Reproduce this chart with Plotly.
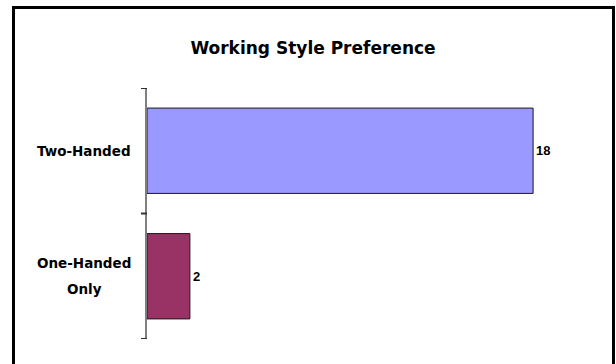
import plotly.graph_objects as go

categories = ["Two-Handed", "One-Handed Only"]
tick_labels = [["Two-Handed"], ["One-Handed", "Only"]]
values = [18, 2]
colors = ["#9999FF", "#993366"]
title_text = "Working Style Preference"

W, H = 616, 364
L, R, T, B = 147, 40, 88, 25
pw, ph = W - L - R, H - T - B

def px_x(x):
    return (x - L) / pw

def px_y(y):
    return (H - B - y) / ph

fig = go.Figure()
fig.add_trace(go.Bar(
    y=categories, x=values, orientation="h",
    marker=dict(color=colors, line=dict(color="#1a1a1a", width=1)),
    width=0.68,
    text=[str(v) for v in values], textposition="outside",
    textfont=dict(family="Liberation Sans, Arial, sans-serif", size=13, color="#000000"),
    texttemplate="<b>%{text}</b>", cliponaxis=False,
    hoverinfo="skip",
))

annotations = []
line_gap = 26
for cat, lines in zip(categories, tick_labels):
    n = len(lines)
    for i, ln in enumerate(lines):
        off = ((n - 1) / 2 - i) * line_gap
        annotations.append(dict(
            x=px_x(84), xref="paper", y=cat, yref="y", yshift=off,
            text=f"<b>{ln}</b>", showarrow=False, xanchor="center", yanchor="middle",
            font=dict(family="DejaVu Sans, Verdana, sans-serif", size=13.5, color="#000000"),
        ))

# boundary ticks drawn at category edges
n_cat = len(categories)
tick_shapes = []
for b in [i - 0.5 for i in range(n_cat + 1)]:
    tick_shapes.append(dict(type="line", xref="paper", yref="y",
                            x0=px_x(141), x1=px_x(147), y0=b, y1=b,
                            line=dict(color="#333333", width=2)))

fig.update_layout(
    width=W, height=H,
    margin=dict(l=L, r=R, t=T, b=B, pad=0),
    paper_bgcolor="white", plot_bgcolor="white",
    showlegend=False,
    bargap=0.32,
    title=dict(text=f"<b>{title_text}</b>", x=313 / W, xref="container", xanchor="center",
               y=1 - 48 / H, yref="container", yanchor="middle",
               font=dict(family="DejaVu Sans, Verdana, sans-serif", size=17, color="#000000")),
    xaxis=dict(range=[0, 20], visible=False, showgrid=False, zeroline=False),
    yaxis=dict(categoryorder="array", categoryarray=categories,
               range=[n_cat - 0.5, -0.5],
               showticklabels=False, showgrid=False, zeroline=False,
               showline=True, linecolor="#7f7f7f", linewidth=2,
               ticks=""),
    annotations=annotations,
    shapes=tick_shapes + [dict(type="rect", xref="paper", yref="paper",
                 x0=px_x(13.5), x1=px_x(613.5), y0=px_y(372), y1=px_y(7.5),
                 line=dict(color="#000000", width=3), fillcolor="rgba(0,0,0,0)",
                 layer="above")],
)

fig.write_html("out.html")
